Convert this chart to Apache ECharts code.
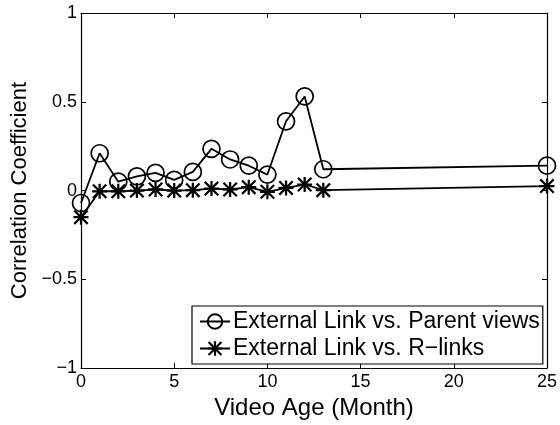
<!DOCTYPE html>
<html>
<head>
<meta charset="UTF-8">
<title>Correlation Coefficient vs Video Age</title>
<script src="https://cdn.jsdelivr.net/npm/echarts@6/dist/echarts.min.js"></script>
<style>
  * { margin: 0; padding: 0; }
  body { background: #fff; }
  #chart { width: 560px; height: 425px; }
</style>
</head>
<body>
<div id="chart"></div>
<script>
// video age (month)
const months = [0, 1, 2, 3, 4, 5, 6, 7, 8, 9, 10, 11, 12, 13, 25];
// External Link vs. Parent views
const parentViews = [-0.07, 0.21, 0.05, 0.08, 0.10, 0.06, 0.105, 0.235, 0.175, 0.14, 0.09, 0.39, 0.53, 0.12, 0.14];
// External Link vs. R-links
const rLinks = [-0.15, -0.004, -0.004, 0.0, 0.006, 0.0, 0.002, 0.011, 0.006, 0.019, -0.007, 0.015, 0.034, 0.002, 0.025];
const xTicks = [0, 5, 10, 15, 20, 25];
const yTicks = [-1, -0.5, 0, 0.5, 1];

const font = 'Liberation Sans, Arial, sans-serif';
// asterisk marker (MATLAB '*')
const star = 'path://M8.5 0L11.5 0L11.5 20L8.5 20Z M0 8.5L20 8.5L20 11.5L0 11.5Z M0 2.1L2.1 0L20 17.9L17.9 20Z M17.9 0L20 2.1L2.1 20L0 17.9Z';

const chart = echarts.init(document.getElementById('chart'));

const fmt = v => String(v).replace('-', '\u2212');

const axisCommon = {
  type: 'value',
  axisLine: { show: true, onZero: false, lineStyle: { color: '#000', width: 1.2 } },
  axisTick: { show: true, inside: true, length: 5, lineStyle: { color: '#000' } },
  splitLine: { show: false }
};

chart.setOption({
  animation: false,
  backgroundColor: '#fff',
  grid: { left: 81, right: 12, top: 13, bottom: 56 },
  legend: {
    left: 192, top: 306,
    orient: 'vertical',
    backgroundColor: '#fff',
    borderColor: '#000',
    borderWidth: 1.2,
    borderRadius: 0,
    padding: [4, 3, 4, 7],
    itemGap: 4,
    itemWidth: 30,
    itemHeight: 18,
    textStyle: { fontFamily: font, fontSize: 23, lineHeight: 23, color: '#000', padding: [0, 0, 0, -2] },
    data: ['External Link vs. Parent views', 'External Link vs. R\u2212links']
  },
  xAxis: [
    Object.assign({}, axisCommon, {
      min: 0, max: 25, interval: 5,
      name: 'Video Age (Month)',
      nameLocation: 'middle',
      nameGap: 21,
      nameTextStyle: { fontFamily: font, fontSize: 24, color: '#000' },
      axisLabel: { fontFamily: font, fontSize: 18, color: '#000', margin: 5 }
    }),
    Object.assign({}, axisCommon, {
      min: 0, max: 25, interval: 5, position: 'top',
      axisLabel: { show: false }
    })
  ],
  yAxis: [
    Object.assign({}, axisCommon, {
      min: -1, max: 1, interval: 0.5,
      name: 'Correlation Coefficient',
      nameLocation: 'middle',
      nameGap: 46,
      nameTextStyle: { fontFamily: font, fontSize: 22, color: '#000' },
      axisLabel: { fontFamily: font, fontSize: 18, color: '#000', margin: 4, formatter: fmt }
    }),
    Object.assign({}, axisCommon, {
      min: -1, max: 1, interval: 0.5, position: 'right',
      axisLabel: { show: false }
    })
  ],
  series: [
    {
      name: 'External Link vs. Parent views',
      type: 'line',
      data: months.map((m, i) => [m, parentViews[i]]),
      symbol: 'circle',
      symbolSize: 17,
      lineStyle: { color: '#000', width: 1.8 },
      itemStyle: { color: 'rgba(0,0,0,0)', borderColor: '#000', borderWidth: 1.7 }
    },
    {
      name: 'External Link vs. R\u2212links',
      type: 'line',
      data: months.map((m, i) => [m, rLinks[i]]),
      symbol: star,
      symbolSize: 15,
      lineStyle: { color: '#000', width: 1.8 },
      itemStyle: { color: '#000' }
    }
  ]
});
</script>
</body>
</html>
